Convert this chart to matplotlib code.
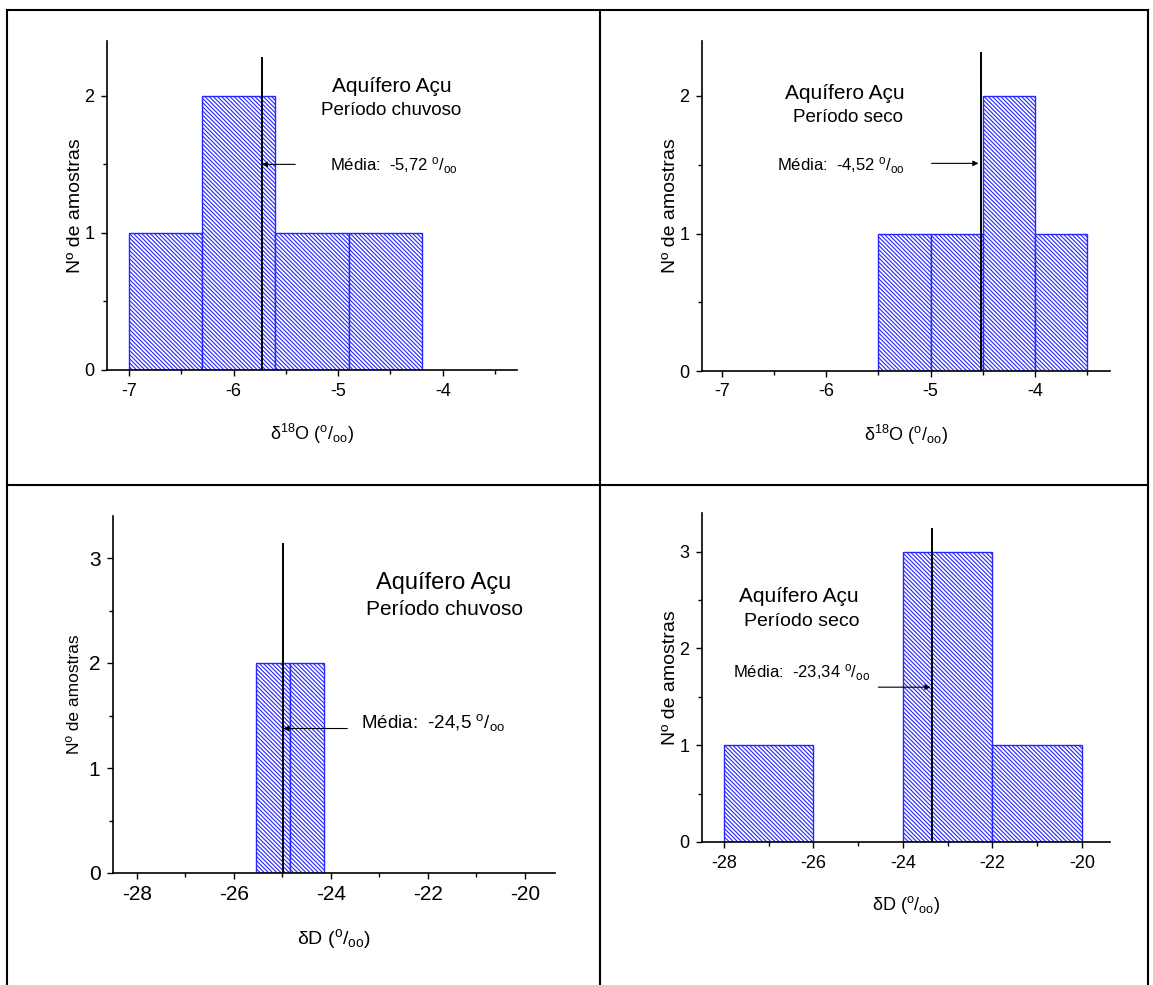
import matplotlib
matplotlib.use('Agg')
import matplotlib.pyplot as plt
from matplotlib.lines import Line2D
from matplotlib.ticker import MultipleLocator

plt.rcParams['font.family'] = ['Liberation Sans', 'DejaVu Sans']
plt.rcParams['mathtext.fontset'] = 'custom'
plt.rcParams['mathtext.rm'] = 'Liberation Sans'
plt.rcParams['mathtext.it'] = 'Liberation Sans:italic'
plt.rcParams['hatch.linewidth'] = 0.8
plt.rcParams['axes.unicode_minus'] = False

# dados dos histogramas
o18_chuv_left = [-7.0, -6.3, -5.6, -4.9]
o18_chuv_width = 0.7
o18_chuv_count = [1, 2, 1, 1]
o18_chuv_media = -5.73

o18_seco_left = [-5.5, -5.0, -4.5, -4.0]
o18_seco_width = 0.5
o18_seco_count = [1, 1, 2, 1]
o18_seco_media = -4.52

d_chuv_left = [-25.55, -24.85]
d_chuv_width = 0.7
d_chuv_count = [2, 2]
d_chuv_media = -24.98

d_seco_left = [-28.0, -24.0, -22.0]
d_seco_width = 2.0
d_seco_count = [1, 3, 1]
d_seco_media = -23.34

o18_ticks = [-7, -6, -5, -4]
d_ticks = [-28, -26, -24, -22, -20]

W, H = 1153, 985
fig = plt.figure(figsize=(W / 100, H / 100), dpi=100)

def px_axes(left, right, bottom, top):
    return fig.add_axes([left / W, 1 - bottom / H, (right - left) / W, (bottom - top) / H])

BLUE = '#2626ff'

def estilo(ax, xlim, ylim, xticks, xminor, yticks_max, fs):
    ax.set_xlim(*xlim)
    ax.set_ylim(*ylim)
    ax.set_xticks(xticks)
    ax.xaxis.set_minor_locator(MultipleLocator(xminor))
    ax.set_yticks(list(range(0, yticks_max + 1)))
    ax.yaxis.set_minor_locator(MultipleLocator(0.5))
    ax.spines['top'].set_visible(False)
    ax.spines['right'].set_visible(False)
    for s in ['left', 'bottom']:
        ax.spines[s].set_linewidth(1.2)
    ax.tick_params(which='major', direction='out', length=4, width=1, labelsize=fs, pad=5)
    ax.tick_params(which='minor', direction='out', length=3, width=1)

def barras(ax, left, width, count, media, ytop):
    ax.bar(left, count, width=width, align='edge', color='white', edgecolor=BLUE,
           linewidth=1.0, hatch='\\\\\\\\\\\\\\\\')
    ax.vlines(media, 0, ytop, color='black', linewidth=1.4, zorder=5)

def seta(ax, x1, x2, y):
    ax.annotate('', xy=(x2, y), xytext=(x1, y),
                arrowprops=dict(arrowstyle='-|>', color='black', lw=0.8,
                                mutation_scale=8, shrinkA=0, shrinkB=0))

ylab = 'Nº de amostras'
xlab_o = 'δ$^{18}$O ($^{\\rm o}$/$_{\\rm oo}$)'
xlab_d = 'δD ($^{\\rm o}$/$_{\\rm oo}$)'

# painel 1
ax1 = px_axes(107, 517, 370, 41)
barras(ax1, o18_chuv_left, o18_chuv_width, o18_chuv_count, o18_chuv_media, 2.28)
estilo(ax1, (-7.21, -3.29), (0, 2.4), o18_ticks, 0.5, 2, 13)
ax1.set_xlabel(xlab_o, fontsize=13, labelpad=16)
ax1.set_ylabel(ylab, fontsize=14, labelpad=0)
ax1.text(-4.49, 2.07, 'Aquífero Açu', fontsize=15, ha='center', va='center')
ax1.text(-4.49, 1.89, 'Período chuvoso', fontsize=13.5, ha='center', va='center')
ax1.text(-5.08, 1.49, 'Média:  -5,72 $^{\\rm o}$/$_{\\rm oo}$', fontsize=12, ha='left', va='center')
seta(ax1, -5.41, o18_chuv_media, 1.5)

# painel 2
ax2 = px_axes(702, 1110, 371, 41)
barras(ax2, o18_seco_left, o18_seco_width, o18_seco_count, o18_seco_media, 2.32)
estilo(ax2, (-7.19, -3.28), (0, 2.4), o18_ticks, 0.5, 2, 13)
ax2.set_xlabel(xlab_o, fontsize=13, labelpad=16)
ax2.set_ylabel(ylab, fontsize=14, labelpad=0)
ax2.text(-5.82, 2.02, 'Aquífero Açu', fontsize=15, ha='center', va='center')
ax2.text(-5.79, 1.84, 'Período seco', fontsize=13.5, ha='center', va='center')
ax2.text(-6.47, 1.49, 'Média:  -4,52 $^{\\rm o}$/$_{\\rm oo}$', fontsize=12, ha='left', va='center')
seta(ax2, -4.99, o18_seco_media - 0.02, 1.51)

# painel 3
ax3 = px_axes(113, 555, 873, 516)
barras(ax3, d_chuv_left, d_chuv_width, d_chuv_count, d_chuv_media, 3.14)
estilo(ax3, (-28.49, -19.38), (0, 3.4), d_ticks, 1, 3, 15)
ax3.set_xlabel(xlab_d, fontsize=14, labelpad=16)
ax3.set_ylabel(ylab, fontsize=12.5, labelpad=5)
ax3.text(-21.67, 2.76, 'Aquífero Açu', fontsize=17, ha='center', va='center')
ax3.text(-21.66, 2.51, 'Período chuvoso', fontsize=15, ha='center', va='center')
ax3.text(-23.37, 1.43, 'Média:  -24,5 $^{\\rm o}$/$_{\\rm oo}$', fontsize=13.5, ha='left', va='center')
seta(ax3, -23.66, d_chuv_media, 1.376)

# painel 4
ax4 = px_axes(702, 1110, 842, 513)
barras(ax4, d_seco_left, d_seco_width, d_seco_count, d_seco_media, 3.25)
estilo(ax4, (-28.49, -19.37), (0, 3.4), d_ticks, 1, 3, 13)
ax4.set_xlabel(xlab_d, fontsize=13, labelpad=16)
ax4.set_ylabel(ylab, fontsize=14, labelpad=0)
ax4.text(-26.33, 2.54, 'Aquífero Açu', fontsize=15, ha='center', va='center')
ax4.text(-26.26, 2.28, 'Período seco', fontsize=14, ha='center', va='center')
ax4.text(-27.8, 1.75, 'Média:  -23,34 $^{\\rm o}$/$_{\\rm oo}$', fontsize=12, ha='left', va='center')
seta(ax4, -24.55, d_seco_media - 0.04, 1.6)

# moldura da tabela
def linha(x0, y0, x1, y1):
    fig.add_artist(Line2D([x0 / W, x1 / W], [1 - y0 / H, 1 - y1 / H], color='black', linewidth=1.5))

linha(7, 10, 1148, 10)
linha(7, 485, 1148, 485)
linha(7, 10, 7, 985)
linha(600, 10, 600, 985)
linha(1148, 10, 1148, 985)

fig.savefig('out.png', dpi=100)
